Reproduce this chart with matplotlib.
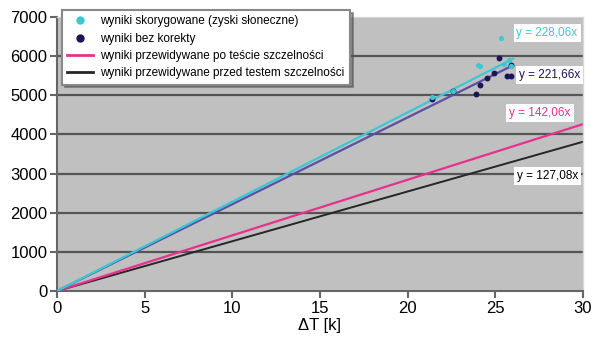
import matplotlib
matplotlib.use("Agg")
import matplotlib.pyplot as plt
from matplotlib.lines import Line2D
import numpy as np

plt.rcParams['font.family'] = ['Liberation Sans', 'DejaVu Sans']

# data
dT_corr = [21.4, 22.6, 24.0, 24.1, 25.3, 25.5, 25.8, 25.9]
E_corr = [4950, 5120, 5780, 5740, 6450, 5800, 5900, 5750]
dT_raw = [21.4, 22.6, 23.9, 24.1, 24.5, 24.9, 25.2, 25.65, 25.9, 25.9]
E_raw = [4900, 5100, 5040, 5270, 5450, 5580, 5950, 5500, 5500, 5780]
slope_corr = 228.06
slope_raw = 221.66
slope_after = 142.06
slope_before = 127.08
fit_xmax = 26.0
pred_xmax = 30.0
labels = ['wyniki skorygowane (zyski słoneczne)', 'wyniki bez korekty',
          'wyniki przewidywane po teście szczelności',
          'wyniki przewidywane przed testem szczelności']
eq_texts = ['y = 228,06x', 'y = 221,66x', 'y = 142,06x', 'y = 127,08x']
xticks = [0, 5, 10, 15, 20, 25, 30]
yticks = [0, 1000, 2000, 3000, 4000, 5000, 6000, 7000]

c_cyan = '#3cc8d2'
c_dark = '#1c1458'
c_pink = '#e8308f'
c_black = '#262626'

fig = plt.figure(figsize=(5.93, 3.46), dpi=100)
ax = fig.add_axes([0.0961, 0.159, 0.887, 0.792])
ax.set_facecolor('#c0c0c0')

for y in yticks[1:]:
    ax.axhline(y, color='#555555', lw=1.6, zorder=1)

xf = np.array([0, fit_xmax])
xp = np.array([0, pred_xmax])
ax.plot(xp, slope_before * xp, color=c_black, lw=1.4, zorder=2)
ax.plot(xp, slope_after * xp, color=c_pink, lw=1.6, zorder=2)
ax.plot(xf, slope_raw * xf, color='#5b4fa8', lw=1.6, zorder=2)
ax.plot(xf, slope_corr * xf, color=c_cyan, lw=1.6, zorder=3)
ax.scatter(dT_raw, E_raw, s=18, color=c_dark, zorder=4, linewidths=0)
ax.scatter(dT_corr, E_corr, s=14, color=c_cyan, zorder=4, linewidths=0)

ax.set_xlim(0, 30)
ax.set_ylim(0, 7000)
ax.set_xticks(xticks)
ax.set_yticks(yticks)
ax.tick_params(labelsize=12, color='#666666', width=1.5, length=5, pad=2)
for s in ['left', 'bottom']:
    ax.spines[s].set_color('#666666')
    ax.spines[s].set_linewidth(1.5)
for s in ['top', 'right']:
    ax.spines[s].set_color('#d8d8d8')
    ax.spines[s].set_linewidth(1.0)
ax.set_xlabel('ΔT [k]', fontsize=12, labelpad=2)

bbox = dict(boxstyle='square,pad=0.25', fc='white', ec='none')
fs_eq = 8.5
ax.text(27.95, 6600, eq_texts[0], color=c_cyan, fontsize=fs_eq, ha='center', va='center', bbox=bbox, zorder=6)
ax.text(28.1, 5525, eq_texts[1], color=c_dark, fontsize=fs_eq, ha='center', va='center', bbox=bbox, zorder=6)
ax.text(27.55, 4550, eq_texts[2], color=c_pink, fontsize=fs_eq, ha='center', va='center', bbox=bbox, zorder=6)
ax.text(28.0, 2940, eq_texts[3], color='black', fontsize=fs_eq, ha='center', va='center', bbox=bbox, zorder=6)

handles = [
    Line2D([], [], ls='none', marker='o', color=c_cyan, ms=5),
    Line2D([], [], ls='none', marker='o', color=c_dark, ms=5),
    Line2D([], [], color=c_pink, lw=2),
    Line2D([], [], color=c_black, lw=2),
]
leg = fig.legend(handles, labels, loc='upper left', bbox_to_anchor=(0.1046, 0.971),
                 borderaxespad=0, fontsize=8.5, frameon=True, fancybox=False, shadow=True,
                 borderpad=0.45, labelspacing=0.45, handlelength=2.2, handletextpad=0.6)
leg.get_frame().set_edgecolor('#888888')
leg.get_frame().set_linewidth(1.5)
leg.set_zorder(10)

fig.savefig('out.png', dpi=100)
